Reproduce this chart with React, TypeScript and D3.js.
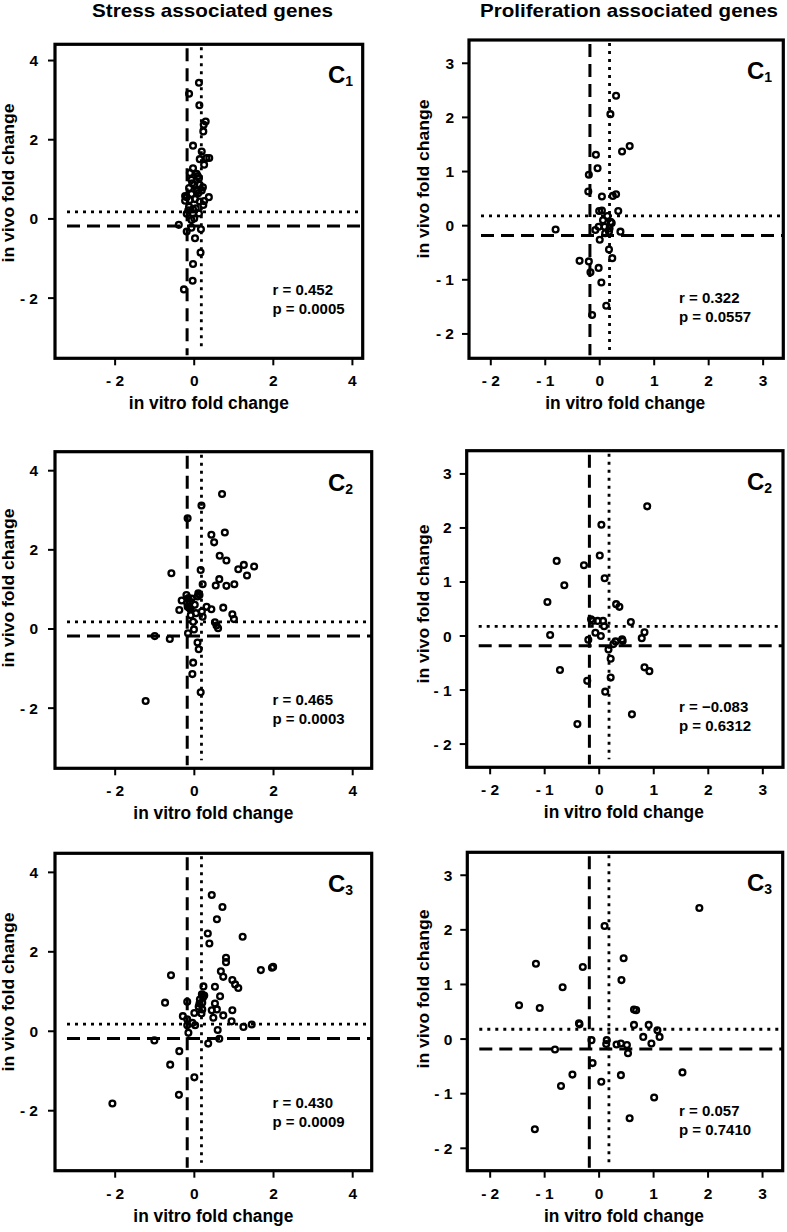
import React from "react";
import * as d3 from "d3";

// ---------- data ----------
const columnTitles = ["Stress associated genes", "Proliferation associated genes"];
const stressTicks = [-2, 0, 2, 4];
const prolifTicks = [-2, -1, 0, 1, 2, 3];
const conditionLabels = ["1", "1", "2", "2", "3", "3"];
const rValues = ["r = 0.452", "r = 0.322", "r = 0.465", "r = \u22120.083", "r = 0.430", "r = 0.057"];
const pValues = ["p = 0.0005", "p = 0.0557", "p = 0.0003", "p = 0.6312", "p = 0.0009", "p = 0.7410"];
const thresholdLow = -0.18;
const thresholdHigh = 0.18;

const stressC1: [number, number][] = [
  [0.12, 3.44], [-0.13, 3.16], [0.13, 2.87], [0.29, 2.46], [0.24, 2.38], [0.23, 2.21], [-0.03, 1.85],
  [0.19, 1.7], [0.31, 1.54], [0.38, 1.54], [0.14, 1.51], [0.25, 1.37], [-0.03, 1.28], [-0.11, 1.16],
  [0.06, 1.14], [0.12, 1.03], [-0.07, 0.99], [0.0, 0.86], [0.14, 0.86], [-0.13, 0.78], [0.06, 0.73],
  [0.19, 0.72], [-0.07, 0.63], [-0.19, 0.55], [0.37, 0.55], [-0.23, 0.46], [0.02, 0.5], [0.14, 0.44],
  [0.23, 0.35], [-0.13, 0.31], [0.04, 0.27], [-0.19, 0.13], [-0.03, 0.13], [0.12, 0.14], [-0.07, -0.03],
  [0.0, 0.01], [-0.39, -0.15], [-0.19, -0.32], [0.17, -0.26], [0.02, -0.49], [0.16, -0.85], [-0.03, -1.14],
  [-0.04, -1.56], [-0.26, -1.78], [-0.05, 0.9], [0.09, 1.08], [-0.11, 0.48], [0.1, 0.65], [0.22, 0.8],
  [-0.03, 0.24], [-0.23, 0.58], [-0.07, -0.22], [0.07, 0.7], [0.25, 0.45], [-0.15, 0.22],
];

const prolifC1: [number, number][] = [
  [0.3, 2.4], [0.196, 2.06], [0.55, 1.47], [0.41, 1.37], [-0.07, 1.31], [-0.04, 1.06], [-0.2, 0.94],
  [-0.21, 0.63], [0.04, 0.54], [0.24, 0.55], [0.3, 0.58], [0.34, 0.27], [-0.01, 0.27], [0.04, 0.28],
  [0.14, 0.18], [0.2, 0.07], [0.22, 0.05], [-0.02, -0.02], [0.09, -0.02], [-0.08, -0.08], [0.1, -0.14],
  [0.0, -0.26], [0.17, -0.11], [0.38, -0.11], [-0.81, -0.07], [0.17, -0.44], [0.23, -0.6], [-0.37, -0.65],
  [-0.2, -0.66], [-0.02, -0.78], [-0.17, -0.86], [0.03, -1.05], [0.12, -1.48], [-0.14, -1.65], [0.06, 0.1],
  [0.18, -0.05],
];

const stressC2: [number, number][] = [
  [0.7, 3.41], [0.18, 3.12], [-0.17, 2.8], [0.43, 2.38], [0.77, 2.44], [0.5, 2.19], [0.64, 1.85],
  [0.81, 1.73], [1.11, 1.51], [1.25, 1.62], [1.51, 1.58], [1.33, 1.35], [-0.58, 1.41], [0.16, 1.49],
  [0.63, 1.26], [0.54, 1.1], [0.81, 1.09], [1.01, 1.13], [0.21, 1.13], [0.1, 0.9], [0.08, 0.82],
  [-0.2, 0.86], [-0.32, 0.72], [-0.11, 0.69], [0.01, 0.61], [-0.38, 0.48], [-0.13, 0.54], [0.31, 0.56],
  [0.43, 0.5], [0.73, 0.54], [0.96, 0.37], [1.0, 0.25], [0.21, 0.31], [-0.09, 0.35], [0.52, 0.17],
  [0.56, 0.09], [0.6, 0.02], [-0.03, 0.18], [-0.01, -0.01], [-0.16, -0.11], [-1.0, -0.18], [-0.62, -0.25],
  [0.08, -0.34], [0.11, -0.51], [-0.03, -0.85], [-0.05, -1.14], [0.16, -1.6], [-1.23, -1.82], [-0.15, 0.78],
  [-0.18, 0.65], [-0.07, 0.77], [0.04, 0.4], [0.13, 0.86], [-0.1, 0.5], [-0.17, 0.56], [0.19, 0.44],
];

const prolifC2: [number, number][] = [
  [0.88, 2.4], [0.04, 2.06], [0.01, 1.49], [-0.78, 1.39], [-0.28, 1.31], [0.1, 1.07], [-0.64, 0.94],
  [-0.95, 0.63], [0.31, 0.59], [0.37, 0.54], [-0.15, 0.31], [-0.03, 0.28], [0.07, 0.28], [0.58, 0.26],
  [0.09, 0.18], [-0.07, 0.06], [0.03, 0.0], [0.83, 0.07], [0.78, -0.04], [-0.9, 0.02], [-0.2, -0.07],
  [0.42, -0.06], [0.43, -0.09], [0.26, -0.15], [0.17, -0.25], [0.21, -0.42], [-0.72, -0.63], [0.83, -0.58],
  [0.92, -0.65], [0.21, -0.77], [-0.22, -0.83], [0.11, -1.03], [0.6, -1.45], [-0.4, -1.63], [-0.12, 0.28],
  [0.3, -0.1],
];

const stressC3: [number, number][] = [
  [0.44, 3.43], [0.71, 3.13], [0.57, 2.82], [0.34, 2.46], [0.38, 2.21], [1.22, 2.38], [0.8, 1.85],
  [0.8, 1.74], [1.99, 1.62], [1.96, 1.6], [1.68, 1.54], [-0.59, 1.41], [0.67, 1.51], [0.73, 1.37],
  [0.96, 1.29], [1.03, 1.18], [1.11, 1.09], [0.23, 1.13], [0.52, 1.12], [0.19, 0.93], [0.25, 0.9],
  [0.14, 0.8], [0.65, 0.88], [-0.74, 0.72], [-0.18, 0.74], [0.52, 0.7], [0.13, 0.7], [0.2, 0.72],
  [0.57, 0.55], [0.2, 0.55], [0.0, 0.46], [0.96, 0.53], [0.44, 0.53], [-0.29, 0.38], [0.48, 0.34],
  [0.73, 0.4], [0.94, 0.25], [-0.18, 0.3], [0.02, 0.15], [1.24, 0.11], [1.45, 0.17], [-0.18, 0.15],
  [0.59, 0.03], [-0.15, -0.04], [0.63, -0.19], [-1.01, -0.23], [0.35, -0.31], [-0.38, -0.5], [-0.61, -0.84],
  [0.0, -1.16], [-0.39, -1.6], [-2.07, -1.82], [0.22, 0.85], [0.11, 0.62], [0.18, 0.45], [-0.05, 0.21],
];

const prolifC3: [number, number][] = [
  [1.84, 2.4], [0.1, 2.07], [0.45, 1.48], [-1.16, 1.38], [-0.3, 1.32], [0.41, 1.08], [-0.67, 0.95],
  [-1.47, 0.62], [-1.09, 0.57], [0.64, 0.54], [0.68, 0.53], [-0.37, 0.29], [-0.36, 0.27], [0.64, 0.26],
  [0.91, 0.26], [1.07, 0.16], [1.11, 0.04], [0.81, 0.04], [0.96, -0.08], [-0.14, -0.02], [0.14, -0.02],
  [0.13, -0.09], [0.32, -0.1], [0.4, -0.08], [0.51, -0.11], [0.53, -0.26], [-0.81, -0.19], [-0.12, -0.44],
  [-0.49, -0.65], [0.4, -0.66], [-0.7, -0.86], [0.04, -0.78], [1.53, -0.61], [1.01, -1.07], [0.56, -1.45],
  [-1.18, -1.65],
];

// ---------- layout ----------
type Panel = {
  data: [number, number][];
  box: [number, number, number, number];
  xd: [number, number];
  yd: [number, number];
  col: number;
  ytitleY: number;
};

const panels: Panel[] = [
  { data: stressC1, box: [55, 44.3, 362.7, 358.3], xd: [-3.52, 4.26], yd: [-3.52, 4.41], col: 0, ytitleY: 183 },
  { data: prolifC1, box: [469, 40, 783.3, 358.3], xd: [-2.4, 3.37], yd: [-2.45, 3.43], col: 1, ytitleY: 179 },
  { data: stressC2, box: [55, 451.7, 371.7, 768.3], xd: [-3.52, 4.48], yd: [-3.52, 4.48], col: 0, ytitleY: 588 },
  { data: prolifC2, box: [466.7, 450.7, 783, 767.3], xd: [-2.43, 3.37], yd: [-2.43, 3.43], col: 1, ytitleY: 604 },
  { data: stressC3, box: [55, 853.3, 371.7, 1170.7], xd: [-3.52, 4.48], yd: [-3.51, 4.48], col: 0, ytitleY: 992 },
  { data: prolifC3, box: [467.3, 852.3, 782.7, 1170.7], xd: [-2.42, 3.37], yd: [-2.41, 3.42], col: 1, ytitleY: 989 },
];

const FONT = "'Liberation Sans', Arial, Helvetica, sans-serif";
const tickLabel = (v: number) => (v < 0 ? `- ${Math.abs(v)}` : `${v}`);

function ScatterPanel({ p, i }: { p: Panel; i: number }) {
  const [x0, y0, x1, y1] = p.box;
  const x = d3.scaleLinear().domain(p.xd).range([x0, x1]);
  const y = d3.scaleLinear().domain(p.yd).range([y1, y0]);
  const ticks = p.col === 0 ? stressTicks : prolifTicks;
  const cX = p.col === 0 ? 328 : 747;
  const statX = p.col === 0 ? 272.5 : 679;
  const rDy = p.col === 0 ? -63 : -55;
  const yTitleX = p.col === 0 ? 14 : 429;
  const yLabRight = p.col === 0 ? x0 - 17 : x0 - 15;
  return (
    <g>
      {/* threshold lines */}
      <line x1={x(thresholdLow)} x2={x(thresholdLow)} y1={y0 + 4} y2={y1 - 3}
        stroke="#000" strokeWidth={3} strokeDasharray="13,7" />
      <line x1={x(thresholdHigh)} x2={x(thresholdHigh)} y1={y0 + 3} y2={y1 - 8}
        stroke="#000" strokeWidth={2.8} strokeDasharray="3,5" />
      <line x1={x0 + 12} x2={x1} y1={y(thresholdHigh)} y2={y(thresholdHigh)}
        stroke="#000" strokeWidth={2.8} strokeDasharray="3,5" />
      <line x1={x0 + 12} x2={x1} y1={y(thresholdLow)} y2={y(thresholdLow)}
        stroke="#000" strokeWidth={3} strokeDasharray="13,7" />
      {/* points */}
      {p.data.map((d, k) => (
        <circle key={k} cx={x(d[0])} cy={y(d[1])} r={2.9} fill="none" stroke="#000" strokeWidth={2.3} />
      ))}
      {/* frame */}
      <rect x={x0} y={y0} width={x1 - x0} height={y1 - y0} fill="none" stroke="#000" strokeWidth={3.2} />
      {/* x ticks */}
      {ticks.map((t) => (
        <g key={"x" + t}>
          <line x1={x(t)} x2={x(t)} y1={y1} y2={y1 + 7} stroke="#000" strokeWidth={2} />
          <text x={x(t)} y={y1 + 28} textAnchor="middle" fontSize={15.5} fontWeight="bold" fontFamily={FONT}>
            {tickLabel(t)}
          </text>
        </g>
      ))}
      {/* y ticks */}
      {ticks.map((t) => (
        <g key={"y" + t}>
          <line x1={x0 - 7} x2={x0} y1={y(t)} y2={y(t)} stroke="#000" strokeWidth={2} />
          <text x={yLabRight} y={y(t) + 5.5} textAnchor="end" fontSize={15.5} fontWeight="bold" fontFamily={FONT}>
            {tickLabel(t)}
          </text>
        </g>
      ))}
      {/* axis titles */}
      <text x={(x0 + x1) / 2 + (p.col === 0 ? 0 : -1)} y={y1 + 51} textAnchor="middle" fontSize={18}
        fontWeight="bold" fontFamily={FONT} textLength={160} lengthAdjust="spacingAndGlyphs">
        in vitro fold change
      </text>
      <text transform={`translate(${yTitleX},${p.ytitleY}) rotate(-90)`} textAnchor="middle" fontSize={16}
        fontWeight="bold" fontFamily={FONT} textLength={159} lengthAdjust="spacingAndGlyphs">
        in vivo fold change
      </text>
      {/* condition label */}
      <text x={cX} y={y0 + 39} fontSize={24} fontWeight="bold" fontFamily={FONT}>
        C<tspan fontSize={14} dy={3}>{conditionLabels[i]}</tspan>
      </text>
      {/* stats */}
      <text x={statX} y={y1 + rDy} fontSize={15} fontWeight="bold" fontFamily={FONT}>{rValues[i]}</text>
      <text x={statX} y={y1 + rDy + 19} fontSize={15} fontWeight="bold" fontFamily={FONT}>{pValues[i]}</text>
    </g>
  );
}

export default function App() {
  return (
    <svg width={787} height={1232} viewBox="0 0 787 1232"
      style={{ position: "absolute", left: 0, top: 0, background: "#fff" }}>
      <rect x={0} y={0} width={787} height={1232} fill="#fff" />
      <text x={212.5} y={16.7} textAnchor="middle" fontSize={17.7} fontWeight="bold" fontFamily={FONT}
        textLength={241} lengthAdjust="spacingAndGlyphs">{columnTitles[0]}</text>
      <text x={629} y={16.7} textAnchor="middle" fontSize={17.7} fontWeight="bold" fontFamily={FONT}
        textLength={298} lengthAdjust="spacingAndGlyphs">{columnTitles[1]}</text>
      {panels.map((p, i) => (
        <ScatterPanel key={i} p={p} i={i} />
      ))}
    </svg>
  );
}
